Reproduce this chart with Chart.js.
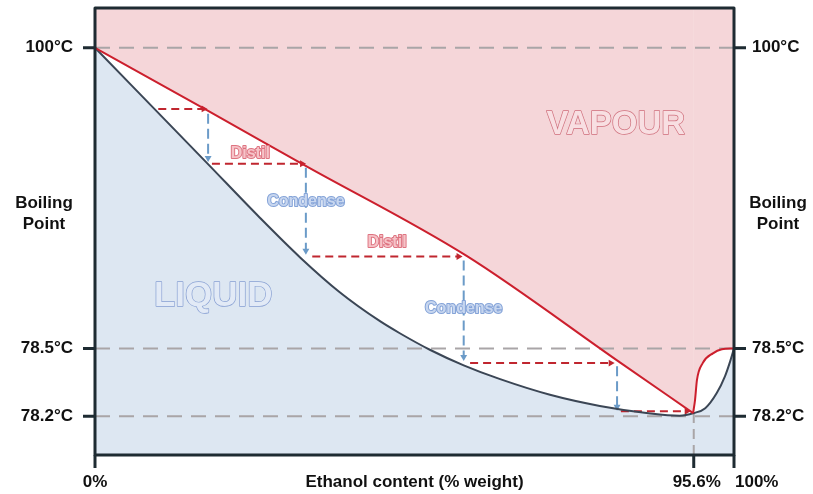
<!DOCTYPE html>
<html>
<head>
<meta charset="utf-8">
<script src="https://cdn.jsdelivr.net/npm/chart.js@4"></script>
<style>
  body { margin: 0; background: #fff; }
</style>
</head>
<body>
<canvas id="chart" width="813" height="494"></canvas>
<script>
// diagram units: x 0..100 across the frame, y 0..100 from bottom to top (schematic, not to scale)
const xTicks = [0, 93.7, 100];
const xTickLabels = ['0%', '95.6%', '100%'];
const yTicks = [91.3, 23.9, 8.7];
const yTickLabels = ['100°C', '78.5°C', '78.2°C'];

// vapour (dew) curve, left branch down to the azeotrope and right branch up to pure ethanol
const vapourLeftX = [0, 17.5, 32.9, 58.1, 82.2, 93.6];
const vapourLeftY = [91.3, 77.3, 64.9, 44.7, 20.7, 9.4];
const vapourRightX = [93.6, 93.9, 94.2, 95.1, 96.7, 98.1, 100];
const vapourRightY = [9.4, 12.3, 16.8, 20.6, 22.8, 23.7, 23.9];

// liquid (bubble) curve
const liquidX = [0, 17.5, 25.8, 32.1, 38.3, 44.6, 47.7, 52.4, 57.7, 63.4, 71.2, 79.0, 86.9, 91.5, 93.7, 95.5, 97.3, 98.6, 99.4, 100];
const liquidY = [91.3, 65.5, 53.2, 44.3, 36.5, 30.0, 27.3, 23.6, 20.1, 17.0, 13.5, 11.0, 9.3, 8.8, 9.4, 10.5, 13.9, 17.7, 21.0, 23.9];

// distil steps (horizontal, red) and condense steps (vertical, blue)
const distilY = [77.6, 65.3, 44.5, 20.6, 9.8];
const distilFrom = [9.9, 18.3, 34.0, 58.7, 82.3];
const distilTo = [17.0, 32.4, 56.9, 80.7, 92.6];
const condenseX = [17.7, 33.0, 57.7, 81.7];
const condenseFrom = [76.5, 64.4, 43.6, 19.9];
const condenseTo = [66.6, 45.8, 22.0, 10.8];

const azeotropeX = 93.7;
const azeotropeY = 9.4;

const pts = (xs, ys) => xs.map((x, i) => ({ x: x, y: ys[i] }));

const PINK = '#f5d6d9';
const BLUE = '#dde7f2';
const RED = '#cc1f2d';
const SLATE = '#3b4655';
const GREY = '#a9a5a7';

const datasets = [];

// fills first (drawn underneath)
datasets.push({ data: pts(vapourLeftX, vapourLeftY), fill: 'end', backgroundColor: PINK, borderWidth: 0, cubicInterpolationMode: 'monotone', order: 10 });
datasets.push({ data: pts(vapourRightX, vapourRightY), fill: 'end', backgroundColor: PINK, borderWidth: 0, cubicInterpolationMode: 'monotone', order: 10 });
datasets.push({ data: pts(liquidX, liquidY), fill: 'start', backgroundColor: BLUE, borderWidth: 0, cubicInterpolationMode: 'monotone', order: 10 });

// dashed reference lines
yTicks.forEach(t => {
    datasets.push({ data: [{ x: 0, y: t }, { x: 100, y: t }], borderColor: GREY, borderWidth: 2, borderDash: [15, 9], fill: false, order: 8 });
});
datasets.push({ data: [{ x: azeotropeX, y: azeotropeY }, { x: azeotropeX, y: 0 }], borderColor: GREY, borderWidth: 2, borderDash: [10, 6], fill: false, order: 8 });

// step arrows
distilY.forEach((yv, i) => {
    datasets.push({
        data: [{ x: distilFrom[i], y: yv }, { x: distilTo[i], y: yv }],
        borderColor: '#c0262f', borderWidth: 2, borderDash: [8, 5], fill: false,
        pointRadius: ctx => ctx.dataIndex === 1 ? 4 : 0,
        pointStyle: 'triangle', pointRotation: 90,
        pointBackgroundColor: '#c0262f', pointBorderWidth: 0, order: 6
    });
});
condenseX.forEach((xv, i) => {
    datasets.push({
        data: [{ x: xv, y: condenseFrom[i] }, { x: xv, y: condenseTo[i] }],
        borderColor: '#6b9bc8', borderWidth: 2, borderDash: [10, 5], fill: false,
        pointRadius: ctx => ctx.dataIndex === 1 ? 4 : 0,
        pointStyle: 'triangle', pointRotation: 180,
        pointBackgroundColor: '#6b9bc8', pointBorderWidth: 0, order: 6
    });
});

// the two curves on top
datasets.push({ data: pts(liquidX, liquidY), borderColor: SLATE, borderWidth: 2, fill: false, cubicInterpolationMode: 'monotone', order: 2 });
datasets.push({ data: pts(vapourLeftX, vapourLeftY), borderColor: RED, borderWidth: 2, fill: false, cubicInterpolationMode: 'monotone', order: 1 });
datasets.push({ data: pts(vapourRightX, vapourRightY), borderColor: RED, borderWidth: 2, fill: false, cubicInterpolationMode: 'monotone', order: 1 });

function outlinedText(ctx, text, x, y, font, fill, stroke, width) {
    ctx.font = font;
    ctx.textAlign = 'center';
    ctx.textBaseline = 'middle';
    ctx.lineJoin = 'round';
    ctx.lineWidth = width;
    ctx.strokeStyle = stroke;
    ctx.strokeText(text, x, y);
    ctx.fillStyle = fill;
    ctx.fillText(text, x, y);
}

const overlay = {
    id: 'overlay',
    afterDatasetsDraw(chart) {
        const { ctx, chartArea: a, scales: { x, y } } = chart;
        ctx.save();

        // region + step labels
        outlinedText(ctx, 'VAPOUR', x.getPixelForValue(81.5), y.getPixelForValue(74.0), 'bold 33px "Liberation Sans", Arial, sans-serif', '#f8dfe2', '#cf6f7c', 1.4);
        outlinedText(ctx, 'LIQUID', x.getPixelForValue(18.5), y.getPixelForValue(35.5), 'bold 35px "Liberation Sans", Arial, sans-serif', '#e2eaf6', '#88a0d3', 1.4);
        outlinedText(ctx, 'Distil', x.getPixelForValue(24.3), y.getPixelForValue(67.6), 'bold 16px "Liberation Sans", Arial, sans-serif', '#f6c3c8', '#de7380', 2);
        outlinedText(ctx, 'Distil', x.getPixelForValue(45.7), y.getPixelForValue(47.6), 'bold 16px "Liberation Sans", Arial, sans-serif', '#f6c3c8', '#de7380', 2);
        outlinedText(ctx, 'Condense', x.getPixelForValue(33.0), y.getPixelForValue(56.8), 'bold 16px "Liberation Sans", Arial, sans-serif', '#c7d6ef', '#84a3d8', 2);
        outlinedText(ctx, 'Condense', x.getPixelForValue(57.7), y.getPixelForValue(32.9), 'bold 16px "Liberation Sans", Arial, sans-serif', '#c7d6ef', '#84a3d8', 2);

        // frame
        ctx.strokeStyle = '#1e2b32';
        ctx.lineWidth = 3;
        ctx.strokeRect(a.left, a.top - 1, a.right - a.left, a.bottom - a.top + 1);

        ctx.font = 'bold 17px "Liberation Sans", Arial, sans-serif';
        ctx.fillStyle = '#111';
        ctx.textBaseline = 'middle';

        // y ticks on both sides
        yTicks.forEach((v, i) => {
            const py = y.getPixelForValue(v);
            ctx.beginPath();
            ctx.moveTo(a.left - 12, py); ctx.lineTo(a.left, py);
            ctx.moveTo(a.right, py); ctx.lineTo(a.right + 12, py);
            ctx.stroke();
            ctx.textAlign = 'right';
            ctx.fillText(yTickLabels[i], a.left - 22, py);
            ctx.textAlign = 'left';
            ctx.fillText(yTickLabels[i], a.right + 18, py);
        });

        // x ticks
        xTicks.forEach((v, i) => {
            const px = x.getPixelForValue(v);
            ctx.beginPath();
            ctx.moveTo(px, a.bottom); ctx.lineTo(px, a.bottom + 13);
            ctx.stroke();
            const last = i === xTicks.length - 1;
            ctx.textAlign = last ? 'left' : 'center';
            ctx.fillText(xTickLabels[i], last ? px + 1 : px + (i === 1 ? 3 : 0), a.bottom + 27);
        });

        // axis titles
        ctx.textAlign = 'center';
        ctx.fillText('Ethanol content (% weight)', (a.left + a.right) / 2, a.bottom + 27);
        [a.left - 51, a.right + 44].forEach(cx => {
            ctx.fillText('Boiling', cx, 203);
            ctx.fillText('Point', cx, 224);
        });

        ctx.restore();
    }
};

new Chart(document.getElementById('chart'), {
    type: 'line',
    data: { datasets: datasets },
    options: {
        responsive: false,
        animation: false,
        layout: { padding: { left: 95, right: 79, top: 9, bottom: 39 } },
        elements: { point: { radius: 0 }, line: { tension: 0 } },
        scales: {
            x: { type: 'linear', min: 0, max: 100, display: false },
            y: { type: 'linear', min: 0, max: 100, display: false }
        },
        plugins: {
            legend: { display: false },
            tooltip: { enabled: false }
        }
    },
    plugins: [overlay]
});
</script>
</body>
</html>
